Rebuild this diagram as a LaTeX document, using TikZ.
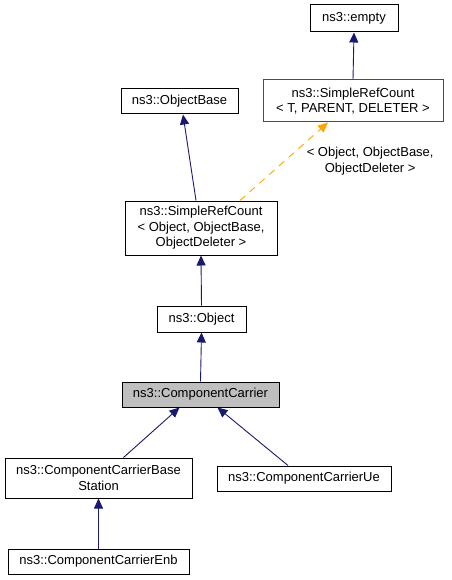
\documentclass[tikz,border=0pt]{standalone}
\usepackage{fontspec}
\setmainfont{Liberation Sans}
\usepackage{xcolor}
\usepackage{tikz}
\usetikzlibrary{arrows.meta}
\definecolor{edgeblue}{HTML}{191970}
\definecolor{tmplorange}{HTML}{FFA500}
\definecolor{curgray}{HTML}{BFBFBF}

\begin{document}
\begin{tikzpicture}[x=1pt,y=-1pt,
    cls/.style={rectangle, draw=black, line width=1pt, fill=white, inner sep=0pt, align=center,
        font=\fontsize{13}{15.5}\selectfont, minimum width=#1},
    curcls/.style={cls=#1, fill=curgray},
    inh/.style={draw=edgeblue, line width=0.9pt, -{Triangle[length=10pt,width=9pt]}},
    tmpl/.style={draw=tmplorange, line width=0.9pt, dash pattern=on 7pt off 6pt,
        -{Triangle[length=10pt,width=9pt]}}]
    \useasboundingbox (0,0) rectangle (451,580);
    \node[cls=88pt, minimum height=27pt] (empty) at (354,18.5) {ns3::empty};
    \node[cls=180pt, minimum height=42pt, draw=black!70] (srct) at (353,101) {ns3::SimpleRefCount\\\textless{} T, PARENT, DELETER \textgreater};
    \node[cls=117pt, minimum height=25pt] (objbase) at (179.5,101.5) {ns3::ObjectBase};
    \node[cls=152pt, minimum height=54pt] (srcobj) at (201,228) {ns3::SimpleRefCount\\\textless{} Object, ObjectBase,\\ObjectDeleter \textgreater};
    \node[cls=89pt, minimum height=26pt] (object) at (201.5,319) {ns3::Object};
    \node[curcls=157pt, minimum height=25pt] (cc) at (200.5,394.5) {ns3::ComponentCarrier};
    \node[cls=187pt, minimum height=40pt] (ccbs) at (98.5,478) {ns3::ComponentCarrierBase\\Station};
    \node[cls=174pt, minimum height=25pt] (ccue) at (304,478.5) {ns3::ComponentCarrierUe};
    \node[cls=181pt, minimum height=25pt] (ccenb) at (98.5,561.5) {ns3::ComponentCarrierEnb};

    \draw[inh] (srct.north) -- (empty.south);
    \draw[inh] ([xshift=-5pt]srcobj.north) -- ([xshift=3.5pt]objbase.south);
    \draw[tmpl] ([xshift=39pt]srcobj.north) -- ([xshift=-25pt]srct.south)
        node[pos=0.5, right=19pt, align=center, font=\fontsize{13}{16}\selectfont] (tmpllbl) {\textless{} Object, ObjectBase,\\ObjectDeleter \textgreater};
    \draw[inh] (object.north) -- (srcobj.south);
    \draw[inh] (cc.north) -- (object.south);
    \draw[inh] ([xshift=25pt]ccbs.north) -- ([xshift=-21pt]cc.south);
    \draw[inh] ([xshift=-16pt]ccue.north) -- ([xshift=17pt]cc.south);
    \draw[inh] (ccenb.north) -- (ccbs.south);
\end{tikzpicture}
\end{document}
